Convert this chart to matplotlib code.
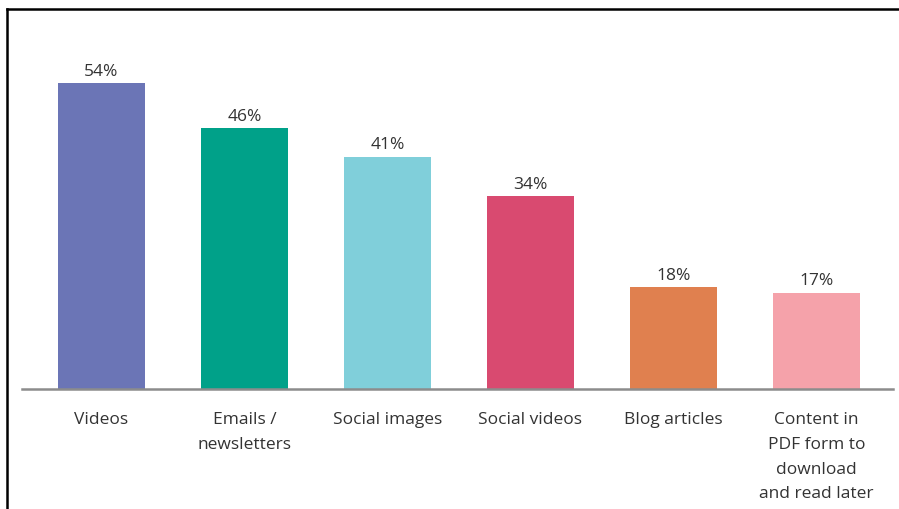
import matplotlib
matplotlib.use("Agg")
import matplotlib.pyplot as plt
from matplotlib.lines import Line2D

categories = ["Videos", "Emails /\nnewsletters", "Social images", "Social videos",
              "Blog articles", "Content in\nPDF form to\ndownload\nand read later"]
values = [54, 46, 41, 34, 18, 17]
value_labels = ["54%", "46%", "41%", "34%", "18%", "17%"]
colors = ["#6b75b6", "#00a189", "#80cfda", "#d94a70", "#e0804f", "#f5a2aa"]

W, H = 899, 510
fig = plt.figure(figsize=(W / 100, H / 100), dpi=100)
fig.patch.set_facecolor("white")

# axes: baseline at y=390 px, x from 22 to 893 px
ax_left, ax_right = 22, 893
ax_bottom, ax_top = 390, 40
ax = fig.add_axes([ax_left / W, 1 - ax_bottom / H, (ax_right - ax_left) / W, (ax_bottom - ax_top) / H])
px_per_unit = 143.0
x0 = 101.5
ax.set_xlim((ax_left - x0) / px_per_unit, (ax_right - x0) / px_per_unit)
px_per_pct = 5.67
ax.set_ylim(0, (ax_bottom - ax_top) / px_per_pct)

xs = list(range(len(categories)))
ax.bar(xs, values, width=0.615, color=colors, zorder=2)

font = "Open Sans"
for x, v, lab in zip(xs, values, value_labels):
    ax.annotate(lab, (x, v), xytext=(0, 3), textcoords="offset points",
                ha="center", va="bottom", fontsize=12.5, color="#333333", family=font)

for s in ["top", "right", "left"]:
    ax.spines[s].set_visible(False)
ax.spines["bottom"].set_color("#8c8c8c")
ax.spines["bottom"].set_linewidth(1.8)
ax.set_yticks([])
ax.set_xticks(xs)
ax.set_xticklabels(categories, fontsize=12.5, color="#333333", family=font, linespacing=1.72, va="top")
ax.tick_params(axis="x", length=0, pad=16)

# frame border (left and top edges visible)
fig.add_artist(Line2D([7 / W, 7 / W], [0, 1 - 10 / H], transform=fig.transFigure, color="black", lw=1.8))
fig.add_artist(Line2D([7 / W, 1], [1 - 10 / H, 1 - 10 / H], transform=fig.transFigure, color="black", lw=1.8))

fig.savefig("out.png", dpi=100)
